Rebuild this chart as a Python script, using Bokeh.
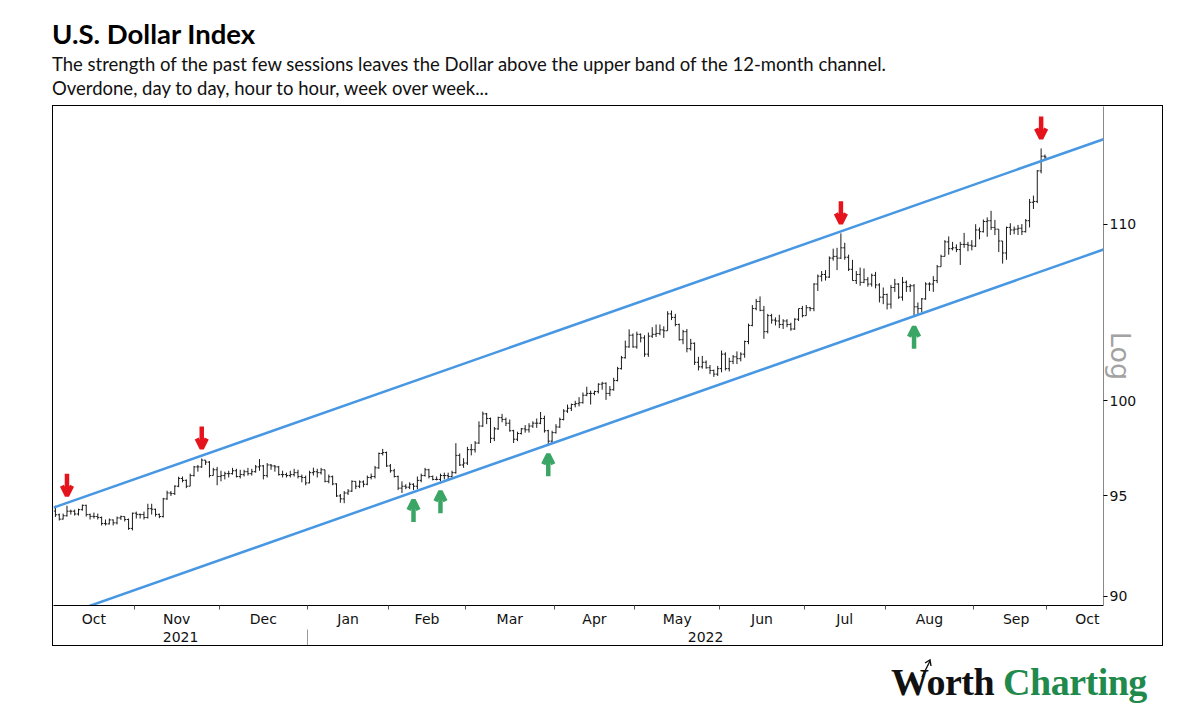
import math
import pandas as pd
from bokeh.plotting import figure
from bokeh.models import (ColumnDataSource, Range1d, FixedTicker, LinearAxis,
                          Arrow, OpenHead, Div, CustomJSTickFormatter)
from bokeh.layouts import column
from bokeh.embed import file_html
from bokeh.resources import INLINE

# ---------------------------------------------------------------- data
# Daily U.S. Dollar Index bars, 1 Oct 2021 - 27 Sep 2022 (one bar per weekday)
first_date = "2021-10-01"
last_date = "2022-09-27"
first_open = 94.23

highs = [
    # Oct 2021
    94.50, 94.10, 94.10, 94.50, 94.30, 94.30, 94.35, 94.56, 94.55, 94.10, 94.15,
    94.10, 93.95, 93.80, 93.85, 93.80, 93.95, 94.00, 93.95, 93.85, 94.15,
    # Nov 2021
    94.20, 94.10, 94.20, 94.60, 94.60, 94.35, 94.10, 94.90, 95.27, 95.25, 95.55,
    95.99, 96.00, 95.85, 96.15, 96.55, 96.60, 96.94, 96.85, 96.80, 96.45, 96.50,
    # Dec 2021
    96.30, 96.25, 96.30, 96.45, 96.40, 96.35, 96.35, 96.45, 96.40, 96.60, 96.91,
    96.60, 96.70, 96.65, 96.60, 96.55, 96.30, 96.20, 96.30, 96.40, 96.35, 96.10, 96.05,
    # Jan 2022
    96.30, 96.46, 96.40, 96.45, 96.35, 96.10, 96.05, 95.65, 95.10, 95.25, 95.35,
    95.80, 95.75, 95.80, 95.80, 96.05, 96.15, 96.55, 97.25, 97.44, 97.30,
    # Feb 2022
    96.65, 96.40, 96.05, 95.75, 95.60, 95.70, 95.65, 96.00, 96.15, 96.45,
    96.40, 96.05, 96.00, 96.15, 96.20, 96.20, 96.30, 97.74, 97.20, 96.95,
    # Mar 2022
    97.55, 97.70, 97.85, 98.90, 99.42, 99.35, 99.10, 98.60, 99.15, 99.30, 99.10,
    99.00, 98.45, 98.35, 98.55, 98.70, 98.80, 98.90, 99.05, 99.40, 99.20, 98.45, 98.40,
    # Apr 2022
    98.75, 99.10, 99.55, 99.80, 99.85, 100.00, 100.20, 100.45, 100.76, 100.55, 100.55,
    100.95, 101.03, 101.00, 100.80, 101.25, 101.85, 102.45, 103.30, 103.93, 103.70,
    # May 2022
    103.80, 103.70, 103.60, 103.75, 104.05, 104.20, 104.20, 104.10, 104.95, 104.99, 104.80,
    104.25, 103.90, 103.95, 103.40, 103.20, 102.40, 102.45, 102.20, 101.95, 101.70, 101.90,
    # Jun 2022
    102.75, 102.65, 102.35, 102.50, 102.70, 102.65, 103.30, 104.25, 105.30, 105.65, 105.79,
    105.25, 104.80, 104.80, 104.60, 104.75, 104.50, 104.50, 104.30, 104.55, 105.10, 105.25,
    # Jul 2022
    105.30, 105.20, 106.55, 107.05, 107.25, 107.30, 108.10, 108.55, 108.60, 109.45, 108.90,
    108.20, 107.90, 107.25, 107.45, 107.40, 106.90, 107.10, 107.20, 106.55, 106.30,
    # Aug 2022
    105.95, 106.45, 106.80, 106.55, 106.90, 106.70, 106.50, 106.50, 105.45, 105.70, 106.60,
    106.60, 106.95, 107.60, 108.20, 109.05, 109.27, 108.95, 108.80, 108.95, 109.48, 108.95, 109.05,
    # Sep 2022
    109.99, 109.80, 110.27, 110.40, 110.79, 110.25, 109.55, 109.00, 109.85, 110.05,
    109.85, 109.95, 110.00, 110.30, 111.50, 111.70, 113.25, 114.58, 114.20,
]

lows = [
    # Oct 2021
    93.93, 93.75, 93.80, 93.95, 94.05, 94.00, 94.00, 94.25, 93.95, 93.80, 93.85,
    93.80, 93.50, 93.50, 93.55, 93.50, 93.55, 93.78, 93.70, 93.28, 93.25,
    # Nov 2021
    93.85, 93.85, 93.80, 93.85, 94.05, 93.95, 93.87, 93.90, 94.80, 95.00, 95.05,
    95.45, 95.70, 95.40, 95.50, 96.00, 96.25, 96.45, 96.60, 95.95, 96.05, 95.55,
    # Dec 2021
    95.75, 95.85, 95.95, 96.10, 95.95, 95.90, 96.00, 96.05, 96.05, 96.20, 96.30,
    95.85, 95.95, 96.35, 96.25, 96.05, 95.95, 95.95, 95.95, 96.00, 95.90, 95.70, 95.55,
    # Jan 2022
    95.65, 96.05, 95.95, 96.10, 95.70, 95.65, 95.55, 94.95, 94.65, 94.63, 95.05,
    95.20, 95.35, 95.40, 95.45, 95.55, 95.85, 95.90, 96.40, 97.10, 96.50,
    # Feb 2022
    96.20, 95.95, 95.30, 95.15, 95.35, 95.35, 95.30, 95.35, 95.70, 96.00,
    95.90, 95.80, 95.80, 95.76, 95.85, 95.85, 95.95, 96.15, 96.55, 96.45,
    # Mar 2022
    96.60, 97.10, 97.25, 97.70, 98.60, 98.75, 97.75, 97.85, 98.45, 98.85, 98.65,
    98.35, 97.75, 97.85, 98.20, 98.30, 98.30, 98.55, 98.55, 98.75, 98.30, 97.69, 97.75,
    # Apr 2022
    98.25, 98.55, 98.95, 99.35, 99.45, 99.65, 99.70, 99.85, 100.25, 99.80, 100.30,
    100.40, 100.60, 100.05, 100.25, 100.55, 101.05, 101.70, 102.30, 102.90, 102.90,
    # May 2022
    102.85, 103.20, 102.40, 102.40, 103.45, 103.50, 103.60, 103.45, 103.90, 104.45, 104.10,
    103.30, 103.10, 102.65, 102.75, 101.95, 101.65, 101.75, 101.75, 101.45, 101.30, 101.35,
    # Jun 2022
    101.55, 101.65, 101.60, 102.00, 102.00, 102.15, 102.35, 103.10, 104.10, 105.00, 104.95,
    103.40, 103.70, 104.25, 104.15, 104.00, 103.95, 104.05, 103.85, 103.90, 104.40, 104.60,
    # Jul 2022
    104.70, 104.95, 104.95, 106.10, 106.65, 106.70, 106.85, 107.85, 107.30, 107.95, 107.90,
    107.25, 106.70, 106.50, 106.40, 106.55, 106.35, 106.35, 106.25, 105.45, 105.35,
    # Aug 2022
    105.05, 105.10, 106.05, 105.65, 105.55, 106.05, 106.05, 104.64, 104.80, 104.90, 105.60,
    106.10, 106.05, 106.55, 107.50, 108.10, 108.20, 108.45, 108.35, 107.60, 108.60, 108.40, 108.45,
    # Sep 2022
    108.65, 109.10, 109.50, 109.25, 109.65, 109.35, 108.35, 107.68, 107.90, 109.35,
    109.40, 109.35, 109.35, 109.50, 109.80, 110.90, 111.25, 113.05, 113.85,
]

closes = [
    # Oct 2021
    94.04, 93.82, 93.99, 94.22, 94.22, 94.08, 94.30, 94.52, 94.05, 93.96, 93.95,
    93.90, 93.60, 93.58, 93.78, 93.63, 93.88, 93.95, 93.80, 93.35, 94.12,
    # Nov 2021
    94.06, 94.05, 93.90, 94.35, 94.32, 94.06, 93.95, 94.85, 95.15, 95.12, 95.50,
    95.90, 95.80, 95.50, 96.05, 96.50, 96.50, 96.85, 96.75, 96.05, 96.35, 96.00,
    # Dec 2021
    96.05, 96.15, 96.15, 96.30, 96.00, 96.10, 96.25, 96.15, 96.25, 96.50, 96.55,
    96.05, 96.60, 96.55, 96.50, 96.10, 96.10, 96.05, 96.10, 96.20, 96.00, 95.95, 95.67,
    # Jan 2022
    96.20, 96.25, 96.20, 96.35, 95.75, 95.99, 95.62, 95.00, 94.85, 95.15, 95.25,
    95.75, 95.50, 95.72, 95.60, 95.95, 96.00, 96.45, 97.20, 97.25, 96.55,
    # Feb 2022
    96.30, 96.00, 95.40, 95.50, 95.45, 95.60, 95.50, 95.80, 96.05, 96.35,
    96.00, 95.85, 95.85, 96.05, 96.05, 96.00, 96.20, 97.10, 96.60, 96.70,
    # Mar 2022
    97.40, 97.40, 97.75, 98.65, 99.30, 99.05, 98.00, 98.50, 99.10, 99.00, 98.80,
    98.40, 97.95, 98.25, 98.50, 98.45, 98.65, 98.80, 98.80, 99.05, 98.40, 97.85, 98.30,
    # Apr 2022
    98.60, 99.00, 99.45, 99.60, 99.80, 99.85, 99.90, 100.30, 100.40, 100.40, 100.50,
    100.90, 100.95, 100.40, 100.60, 101.10, 101.75, 102.35, 102.95, 103.60, 102.95,
    # May 2022
    103.65, 103.45, 102.55, 103.55, 103.65, 103.70, 103.90, 103.85, 104.80, 104.60, 104.20,
    103.35, 103.80, 102.85, 103.15, 102.10, 101.85, 102.10, 101.80, 101.65, 101.45, 101.75,
    # Jun 2022
    102.55, 101.75, 102.15, 102.40, 102.30, 102.55, 103.25, 104.15, 105.10, 105.50, 105.00,
    103.80, 104.70, 104.45, 104.40, 104.20, 104.40, 104.20, 103.95, 104.50, 105.10, 104.70,
    # Jul 2022
    105.15, 105.10, 106.50, 106.95, 107.05, 106.90, 108.00, 108.10, 108.00, 108.60, 108.05,
    107.35, 106.70, 107.05, 106.60, 106.75, 106.50, 107.00, 106.45, 105.75, 105.90,
    # Aug 2022
    105.35, 106.30, 106.50, 105.75, 106.60, 106.35, 106.40, 105.20, 105.10, 105.65, 106.50,
    106.50, 106.70, 107.50, 108.10, 108.95, 108.55, 108.60, 108.50, 108.80, 108.80, 108.75, 108.70,
    # Sep 2022
    109.65, 109.55, 110.15, 110.20, 109.80, 109.70, 109.00, 108.30, 109.80, 109.65,
    109.70, 109.75, 109.55, 110.20, 111.30, 111.35, 113.20, 114.10, 114.05,
]

# 12-month channel: value of each band at the left and right edge of the chart
upper_band = [94.40, 115.15]
lower_band = [88.92, 108.50]

# turning points marked on the chart
top_dates = ["2021-10-06", "2021-11-24", "2022-07-14", "2022-09-26"]
bottom_dates = ["2022-02-09", "2022-02-18", "2022-03-30", "2022-08-10"]

# axis ticks
price_ticks = [90, 95, 100, 110]
axis_end_date = "2022-10-31"

# ---------------------------------------------------------------- layout constants
FRAME_W, FRAME_H = 1050, 499
RIGHT_W, BOTTOM_H = 61, 42
Y_MIN, Y_MAX = 89.55, 117.2
X_START, X_END = -0.5, 272.2
AXIS_FONT = "DejaVu Sans"

dates = pd.bdate_range(first_date, last_date)
assert len(dates) == len(highs) == len(lows) == len(closes), \
    (len(dates), len(highs), len(lows), len(closes))

idx = list(range(len(dates)))
opens = [first_open] + closes[:-1]
hi = [max(h, o, c) for h, o, c in zip(highs, opens, closes)]
lo = [min(l, o, c) for l, o, c in zip(lows, opens, closes)]

bars = ColumnDataSource(dict(
    x=idx, xl=[i - 0.42 for i in idx], xr=[i + 0.42 for i in idx],
    high=hi, low=lo, open=opens, close=closes,
))

p = figure(
    width=FRAME_W + RIGHT_W, height=FRAME_H + BOTTOM_H,
    x_range=Range1d(X_START, X_END), y_range=Range1d(Y_MIN, Y_MAX),
    y_axis_type="log", y_axis_location="right",
    output_backend="svg", toolbar_location=None,
    min_border_left=0, min_border_top=0,
    min_border_right=RIGHT_W, min_border_bottom=BOTTOM_H,
    background_fill_color="white", border_fill_color="white",
    outline_line_color=None,
    styles={"border": "1px solid #000"},
    margin=(0, 0, 0, 52),
)
p.grid.visible = False

BAR_COLOR = "#1a1a1a"
p.segment(x0="x", y0="low", x1="x", y1="high", source=bars, line_color=BAR_COLOR, line_width=1)
p.segment(x0="xl", y0="open", x1="x", y1="open", source=bars, line_color=BAR_COLOR, line_width=1)
p.segment(x0="x", y0="close", x1="xr", y1="close", source=bars, line_color=BAR_COLOR, line_width=1)

# channel bands
BAND_COLOR = "#4797e3"
p.line([X_START, X_END], upper_band, line_color=BAND_COLOR, line_width=2.5)
p.line([X_START, X_END], lower_band, line_color=BAND_COLOR, line_width=2.5)

# arrows above tops and below bottoms (offsets in screen pixels)
px_per_log = FRAME_H / math.log(Y_MAX / Y_MIN)
GAP, LEN = 10, 22
pos = {d.strftime("%Y-%m-%d"): i for i, d in enumerate(dates)}

tx = [pos[d] for d in top_dates]
tops = ColumnDataSource(dict(
    x=tx,
    y0=[hi[i] * math.exp((GAP + LEN) / px_per_log) for i in tx],
    y1=[hi[i] * math.exp(GAP / px_per_log) for i in tx],
))
bx = [pos[d] for d in bottom_dates]
bottoms = ColumnDataSource(dict(
    x=bx,
    y0=[lo[i] * math.exp(-(GAP + LEN) / px_per_log) for i in bx],
    y1=[lo[i] * math.exp(-GAP / px_per_log) for i in bx],
))
RED, GREEN = "#e5141c", "#3aa564"
for src, col in ((tops, RED), (bottoms, GREEN)):
    p.add_layout(Arrow(
        end=OpenHead(size=10, line_color=col, line_width=4.5),
        x_start="x", y_start="y0", x_end="x", y_end="y1", source=src,
        line_color=col, line_width=4.5,
    ))

# ---------------------------------------------------------------- right price axis
yax = p.yaxis[0]
yax.ticker = FixedTicker(ticks=price_ticks, minor_ticks=[])
yax.formatter = CustomJSTickFormatter(code="return Math.round(tick).toString();")
yax.axis_line_color = "#8a8a8a"
yax.major_tick_in = 0
yax.major_tick_out = 4
yax.major_tick_line_color = "#000"
yax.minor_tick_line_color = None
yax.major_label_standoff = 2
yax.major_label_text_font = AXIS_FONT
yax.major_label_text_font_size = "14px"
yax.major_label_text_color = "#111"
yax.axis_label = "Log"
yax.axis_label_text_font = AXIS_FONT
yax.axis_label_text_font_size = "27px"
yax.axis_label_text_font_style = "normal"
yax.axis_label_text_color = "#a2a2a2"
yax.axis_label_standoff = -34

# ---------------------------------------------------------------- bottom month / year axes
months = pd.period_range(dates[0], axis_end_date, freq="M")
month_starts, month_mids, month_names = [], [], []
for m in months:
    days = pd.bdate_range(m.start_time, m.end_time)
    start = float((dates < days[0]).sum()) - 0.5
    mid = min(start + len(days) / 2.0, X_END - 4.0)
    month_starts.append(start)
    month_mids.append(mid)
    month_names.append(m.strftime("%b"))

years = sorted(set(m.year for m in months))
year_starts = [month_starts[[m.year for m in months].index(y)] for y in years]
year_bounds = year_starts + [X_END]
year_mids = [(max(a, X_START) + b) / 2 for a, b in zip(year_bounds[:-1], year_bounds[1:])]
year_names = [str(y) for y in years]

label_js = """
const i = pos.findIndex(v => Math.abs(v - tick) < 1e-6);
return i >= 0 ? lab[i] : "";
"""

xax = p.xaxis[0]
xax.ticker = FixedTicker(ticks=month_mids, minor_ticks=month_starts[1:])
xax.formatter = CustomJSTickFormatter(args=dict(pos=month_mids, lab=month_names), code=label_js)
xax.axis_line_color = "#000"
xax.major_tick_line_color = None
xax.major_tick_out = 0
xax.major_tick_in = 0
xax.minor_tick_in = 0
xax.minor_tick_out = 4
xax.minor_tick_line_color = "#555"
xax.major_label_standoff = 1
xax.major_label_text_font = AXIS_FONT
xax.major_label_text_font_size = "14px"
xax.major_label_text_color = "#111"

# year row: the long minor tick is the divider between the years
yr = LinearAxis(
    ticker=FixedTicker(ticks=year_mids, minor_ticks=year_starts[1:]),
    formatter=CustomJSTickFormatter(args=dict(pos=year_mids, lab=year_names), code=label_js),
    axis_line_color=None, major_tick_line_color=None,
    major_tick_out=0, major_tick_in=0,
    minor_tick_in=0, minor_tick_out=21, minor_tick_line_color="#9a9a9a",
    major_label_standoff=-19,
    major_label_text_font=AXIS_FONT, major_label_text_font_size="14px",
    major_label_text_color="#111",
)
p.add_layout(yr, "below")

# ---------------------------------------------------------------- titles and logo
head = Div(
    width=1140, height=105, margin=(0, 0, 0, 52),
    text=(
        '<div style="font-family:Lato;font-weight:700;font-size:27.5px;line-height:32px;'
        'margin-top:18px;color:#000;white-space:nowrap">U.S. Dollar Index</div>'
        '<div style="font-family:Lato;font-size:18.5px;line-height:24px;color:#111;'
        'margin-top:2px;white-space:nowrap">The strength of the past few sessions leaves the '
        'Dollar above the upper band of the 12-month channel.<br>Overdone, day to day, hour '
        'to hour, week over week...</div>'
    ),
)

logo = Div(
    width=300, height=62, margin=(13, 0, 0, 891),
    text=(
        '<div style="position:relative;font-family:\'Liberation Serif\';font-weight:700;'
        'font-size:38px;line-height:46px;letter-spacing:-0.5px;white-space:nowrap">'
        '<span style="color:#111">Worth</span> <span style="color:#1f8a4c">Charting</span>'
        '<svg width="16" height="22" style="position:absolute;left:28px;top:-2px" '
        'viewBox="0 0 16 22"><polyline points="3,20 11,4" fill="none" stroke="#111" '
        'stroke-width="1.4"/><polyline points="6,6 11,3 12,9" fill="none" stroke="#111" '
        'stroke-width="1.4"/></svg></div>'
    ),
)

page = column(head, p, logo, spacing=0)
open("out.html", "w").write(file_html(page, INLINE))
